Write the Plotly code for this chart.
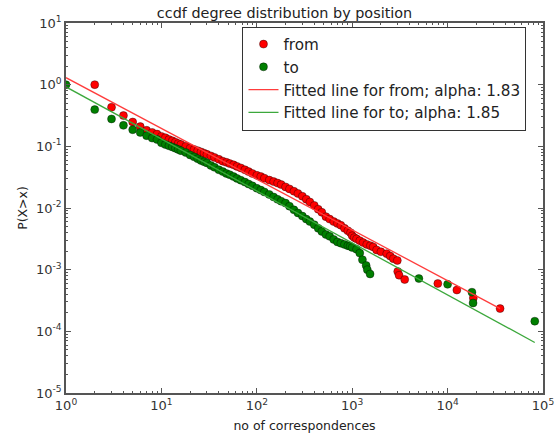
import plotly.graph_objects as go

# ---- data ----
from_x = [2, 3, 4, 5, 6, 7, 8, 9, 10, 11, 12, 13, 14, 15, 16, 18, 20, 22, 24, 26, 28, 30,
          33, 36, 40, 44, 48, 52, 57, 62, 68, 75, 82, 90, 100, 110, 120, 135, 150, 165,
          180, 200, 220, 245, 270, 300, 330, 360, 400, 440, 480, 530, 580, 640, 700, 760,
          830, 900, 960, 1000, 1050, 1110, 1200, 1300, 1420, 1550, 1660, 1800, 2000, 2300,
          2500, 2700, 2970, 3000, 3100, 3550, 7900, 12500, 18600, 35500]
from_p = [1.0, 0.430, 0.316, 0.248, 0.209, 0.182, 0.168, 0.158, 0.145, 0.138, 0.129, 0.123,
          0.117, 0.111, 0.107, 0.100, 0.0933, 0.0891, 0.0851, 0.0813, 0.0776, 0.0741,
          0.0700, 0.0661, 0.0617, 0.0575, 0.0550, 0.0525, 0.0501, 0.0473, 0.0447, 0.0417,
          0.0389, 0.0363, 0.0339, 0.0324, 0.0305, 0.0284, 0.0268, 0.0254, 0.0240, 0.0220,
          0.0204, 0.0187, 0.0172, 0.0155, 0.0139, 0.0125, 0.0110, 0.00955, 0.00851, 0.00724,
          0.00661, 0.00603, 0.00562, 0.00525, 0.00468, 0.00427, 0.00398, 0.00355, 0.00331,
          0.00316, 0.00295, 0.00275, 0.00257, 0.00245, 0.00234, 0.00209, 0.00195, 0.00182,
          0.00166, 0.00151, 0.00141, 0.000933, 0.000813, 0.000692, 0.000596, 0.000468,
          0.000347, 0.000234]

to_x = [1, 2, 3, 4, 5, 6, 7, 8, 9, 10, 11, 12, 13, 14, 15, 16, 18, 20, 22, 24, 26, 28, 30,
        33, 36, 40, 44, 48, 52, 57, 62, 68, 75, 82, 90, 100, 110, 120, 135, 150, 165, 180,
        200, 220, 245, 270, 300, 330, 360, 400, 440, 480, 530, 580, 640, 700, 760, 830, 900,
        950, 1000, 1110, 1200, 1280, 1400, 1440, 1540, 5000, 10000, 18000, 18500, 82000]
to_p = [1.0, 0.394, 0.278, 0.219, 0.186, 0.168, 0.149, 0.136, 0.129, 0.114, 0.107, 0.102,
        0.0977, 0.0933, 0.0891, 0.0851, 0.0794, 0.0724, 0.0676, 0.0631, 0.0589, 0.0562,
        0.0537, 0.0490, 0.0457, 0.0417, 0.0389, 0.0363, 0.0347, 0.0324, 0.0302, 0.0282,
        0.0263, 0.0245, 0.0229, 0.0209, 0.0195, 0.0182, 0.0166, 0.0151, 0.0138, 0.0129,
        0.0120, 0.0107, 0.00933, 0.00832, 0.00741, 0.00661, 0.00603, 0.00537, 0.00468,
        0.00417, 0.00372, 0.00347, 0.00309, 0.00282, 0.00269, 0.00257, 0.00245, 0.00240,
        0.00229, 0.00214, 0.00186, 0.00145, 0.00117, 0.00100, 0.000851, 0.000718,
        0.000579, 0.000431, 0.000288, 0.000146]

fit_from_x = [1, 35500]
fit_from_p = [1.30, 0.000234]
fit_to_x = [1, 82000]
fit_to_p = [0.92, 0.000066]

x_tickvals = [1, 10, 100, 1000, 10000, 100000]
x_ticktext = ["10<sup>0</sup>", "10<sup>1</sup>", "10<sup>2</sup>", "10<sup>3</sup>",
              "10<sup>4</sup>", "10<sup>5</sup>"]
y_tickvals = [1e-5, 1e-4, 1e-3, 1e-2, 1e-1, 1, 10]
y_ticktext = ["10<sup>-5</sup>", "10<sup>-4</sup>", "10<sup>-3</sup>", "10<sup>-2</sup>",
              "10<sup>-1</sup>", "10<sup>0</sup>", "10<sup>1</sup>"]

FONT = "DejaVu Sans"
edge = dict(color="rgba(0,0,0,0.75)", width=0.5)

fig = go.Figure()
fig.add_trace(go.Scatter(x=from_x, y=from_p, mode="markers", name="from",
                         marker=dict(color="#ff0000", size=8, line=edge)))
fig.add_trace(go.Scatter(x=to_x, y=to_p, mode="markers", name="to",
                         marker=dict(color="#007f00", size=8, line=edge)))
fig.add_trace(go.Scatter(x=fit_from_x, y=fit_from_p, mode="lines",
                         name="Fitted line for from; alpha: 1.83",
                         line=dict(color="#ff3c3c", width=1.3)))
fig.add_trace(go.Scatter(x=fit_to_x, y=fit_to_p, mode="lines",
                         name="Fitted line for to; alpha: 1.85",
                         line=dict(color="#3ca83c", width=1.3)))

axis_common = dict(
    type="log", showgrid=False, zeroline=False, showline=True, linecolor="#555555",
    linewidth=1.5, mirror="allticks", ticks="inside", ticklen=5, tickcolor="#555555",
    tickfont=dict(family=FONT, size=13, color="#333333"), tickmode="array",
    automargin=False,
    minor=dict(ticks="inside", ticklen=2.5, tickcolor="#555555", showgrid=False, dtick="D1"),
)

fig.update_xaxes(range=[0, 5], tickvals=x_tickvals, ticktext=x_ticktext,
                 title=dict(text="no of correspondences", standoff=9,
                            font=dict(family=FONT, size=12.5, color="#222222")),
                 **axis_common)
fig.update_yaxes(range=[-5, 1], tickvals=y_tickvals, ticktext=y_ticktext,
                 title=dict(text="P(X>x)", standoff=6,
                            font=dict(family=FONT, size=12.5, color="#222222")),
                 **axis_common)

fig.update_layout(
    width=559, height=434,
    margin=dict(l=66, r=16, t=23, b=41, autoexpand=False),
    paper_bgcolor="white", plot_bgcolor="white",
    title=dict(text="ccdf degree distribution by position", x=0.509, xanchor="center",
               y=0.971, yanchor="middle",
               font=dict(family=FONT, size=14.4, color="#222222")),
    font=dict(family=FONT),
    legend=dict(x=0.370, y=0.99, xanchor="left", yanchor="top",
                bgcolor="white", bordercolor="#333333", borderwidth=1,
                font=dict(family=FONT, size=15.2, color="#222222"),
                itemwidth=30, tracegroupgap=0),
    showlegend=True,
)

# remove the page's default 8 px body margin so the figure fills the window
fig.write_html("out.html", config={"displayModeBar": False},
               post_script="document.body.style.margin='0';")
